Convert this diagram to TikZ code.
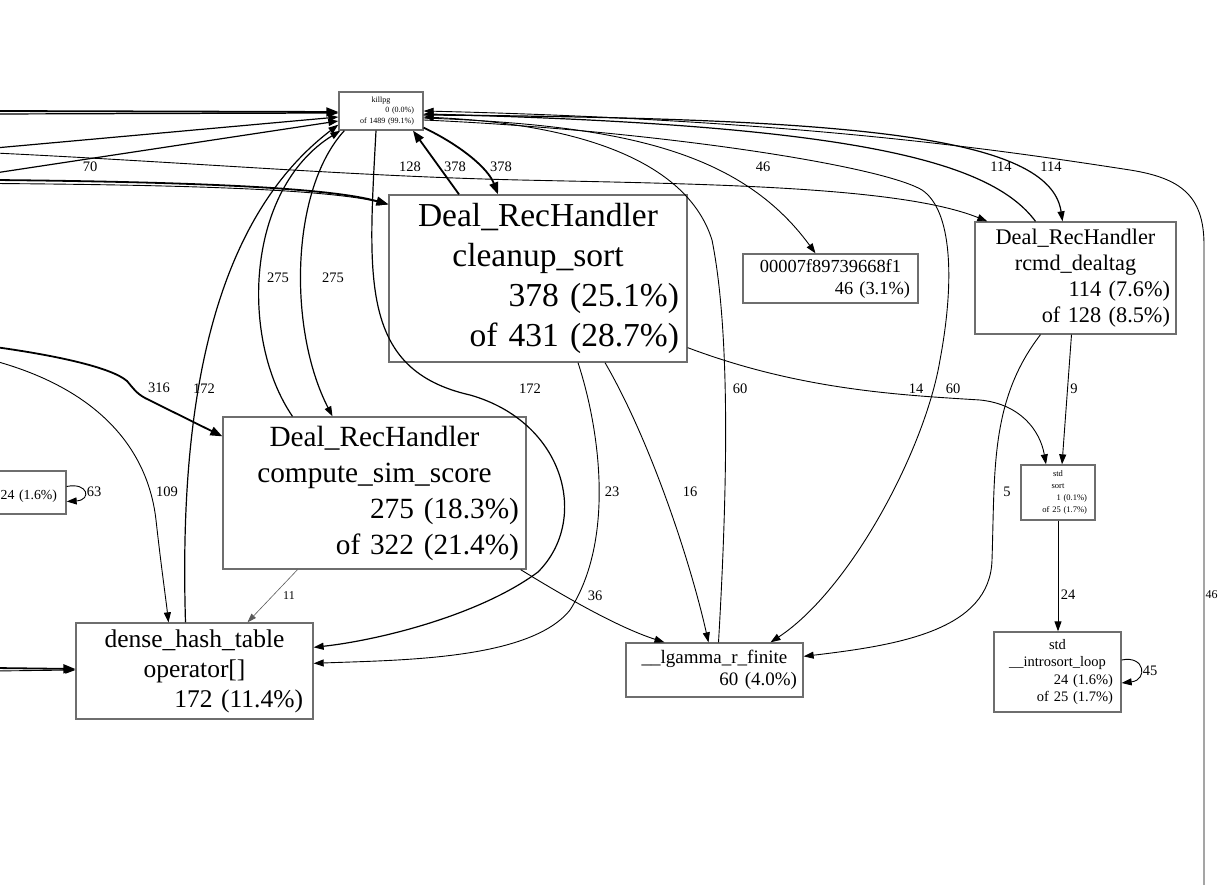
\documentclass[tikz,border=0pt]{standalone}
\usepackage{fontspec}
\setmainfont{Liberation Serif}
\usetikzlibrary{arrows.meta}
\newcommand{\ctrline}[1]{\makebox[\hsize][c]{#1}}
\newcommand{\fsz}[2]{\fontsize{#1}{#2}\selectfont}
\begin{document}
\begin{tikzpicture}[x=1pt,y=-1pt,
  fbox/.style={draw={rgb,255:red,110;green,110;blue,110}, line width=1.3pt, inner sep=0pt, align=right, execute at begin node={\parindent=0pt}},
  e/.style={draw=black, line width=0.9pt, -{Triangle[length=10pt,width=7pt]}},
  em/.style={e, line width=1.2pt},
  eth/.style={e, line width=1.8pt, -{Triangle[length=12pt,width=9pt]}},
  ethin/.style={draw={rgb,255:red,90;green,90;blue,90}, line width=0.6pt, -{Triangle[length=9pt,width=6pt]}},
  lbl/.style={font=\fsz{14.5}{16}, inner sep=0pt},
]
\useasboundingbox (0,0) rectangle (1218,885);

% nodes
\node[fbox, minimum width=84pt, minimum height=38pt, text width=66pt, font=\fsz{8}{10.5}] (killpg) at (381,111) {\ctrline{killpg}\\0 (0.0\%)\\of 1489 (99.1\%)};
\node[fbox, minimum width=298pt, minimum height=167pt, text width=282pt, font=\fsz{33.5}{40}] (cleanup) at (538,278.5) {\ctrline{Deal\_RecHandler}\\\ctrline{cleanup\_sort}\\378 (25.1\%)\\of 431 (28.7\%)};
\node[fbox, minimum width=175pt, minimum height=49pt, text width=159pt, font=\fsz{18.4}{22}] (hexaddr) at (830.5,278.5) {\ctrline{00007f89739668f1}\\46 (3.1\%)};
\node[fbox, minimum width=201pt, minimum height=112pt, text width=189pt, font=\fsz{22.3}{26}] (dealtag) at (1075.5,278) {\ctrline{Deal\_RecHandler}\\\ctrline{rcmd\_dealtag}\\114 (7.6\%)\\of 128 (8.5\%)};
\node[fbox, minimum width=303pt, minimum height=152pt, text width=289pt, font=\fsz{29.3}{36}] (simscore) at (374.5,493) {\ctrline{Deal\_RecHandler}\\\ctrline{compute\_sim\_score}\\275 (18.3\%)\\of 322 (21.4\%)};
\node[fbox, minimum width=126pt, minimum height=43pt, text width=108pt, font=\fsz{13.8}{17}] (leftnode) at (3,492.5) {\mbox{}\\24 (1.6\%)};
\node[fbox, minimum width=74pt, minimum height=55pt, text width=58pt, font=\fsz{8.5}{12}] (stdsort) at (1058,492.5) {\ctrline{std}\\\ctrline{sort}\\1 (0.1\%)\\of 25 (1.7\%)};
\node[fbox, minimum width=237pt, minimum height=96pt, text width=217pt, font=\fsz{25.5}{30}] (dense) at (194.5,671) {\ctrline{dense\_hash\_table}\\\ctrline{operator[]}\\172 (11.4\%)};
\node[fbox, minimum width=177pt, minimum height=54pt, text width=165pt, font=\fsz{19}{22}] (lgamma) at (714.5,670) {\ctrline{\_\_lgamma\_r\_finite}\\60 (4.0\%)};
\node[fbox, minimum width=127pt, minimum height=80pt, text width=111pt, font=\fsz{14.5}{17.5}] (introsort) at (1057.5,672) {\ctrline{std}\\\ctrline{\_\_introsort\_loop}\\24 (1.6\%)\\of 25 (1.7\%)};

% off-canvas ends
\coordinate (inA) at (-5,111);
\coordinate (inA2) at (-5,114);
\coordinate (inB) at (-5,148);
\coordinate (inC) at (-5,173);
\coordinate (inD) at (-5,153);
\coordinate (inE) at (-5,180);
\coordinate (inE2) at (-5,183.5);
\coordinate (inF) at (-5,347);
\coordinate (inG) at (-5,361);
\coordinate (inH) at (-5,668);
\coordinate (inH2) at (-5,671);
\coordinate (outR) at (1204,895);

% edges into killpg from the left
\draw[eth] (inA) -- ([yshift=-1pt]killpg.west);
\draw[em] (inA2) -- ([yshift=-2pt]killpg.west);
\draw[em] (inB) -- ([yshift=-6pt]killpg.west);
\draw[em] (inC) -- ([yshift=-10pt]killpg.west);
\draw[e] (inD) .. controls (200,163) and (350,176) .. (520,180) .. controls (700,184) and (900,186) .. ([xshift=13pt]dealtag.north west);
\draw[eth] (inE) .. controls (200,182) and (330,188) .. ([yshift=-10pt]cleanup.north west);
\draw[e] (inE2) .. controls (200,185) and (330,190) .. ([yshift=-10pt]cleanup.north west);
\draw[eth] (inF) .. controls (60,356) and (112,368) .. (127,381) .. controls (133,388) and (136,393) .. (145,398) -- ([yshift=-20pt]simscore.north west);
\draw[e] (inG) .. controls (100,390) and (148,450) .. (156,520) .. controls (161,565) and (166,600) .. ([xshift=-26pt]dense.north);
\draw[eth] (inH) -- ([yshift=2pt]dense.west);
\draw[e] (inH2) -- ([yshift=1pt]dense.west);
\draw[e] ([yshift=6pt]leftnode.east) .. controls (88,482) and (92,500) .. ([yshift=-9pt]leftnode.east);

% around killpg bottom
\draw[em] ([xshift=-9pt]dense.north) .. controls (180,440) and (200,230) .. ([yshift=6pt]killpg.south west);
\draw[em] ([xshift=-82pt]simscore.north) .. controls (240,340) and (245,190) .. ([xshift=2pt]killpg.south west);
\draw[em] ([xshift=6pt]killpg.south west) .. controls (290,190) and (288,330) .. ([xshift=-42pt]simscore.north);
\draw[em] ([xshift=-5pt]killpg.south) .. controls (368,280) and (360,370) .. (470,395) .. controls (565,422) and (590,520) .. (538,572) .. controls (480,615) and (380,640) .. ([yshift=-25pt]dense.north east);
\draw[eth] ([xshift=-79pt]cleanup.north) -- ([xshift=32pt]killpg.south);
\draw[eth] ([yshift=3pt]killpg.south east) .. controls (460,145) and (488,168) .. ([xshift=-40pt]cleanup.north);

% from cleanup
\draw[e] ([xshift=40pt]cleanup.south) .. controls (600,430) and (615,540) .. (570,610) .. controls (530,660) and (400,660) .. ([yshift=-41pt]dense.north east);
\draw[e] ([xshift=67pt]cleanup.south) .. controls (650,440) and (690,560) .. ([xshift=-6pt]lgamma.north);
\draw[e] ([yshift=15pt]cleanup.south east) .. controls (800,390) and (900,395) .. (980,400) .. controls (1020,404) and (1040,430) .. ([xshift=-12pt]stdsort.north);

% killpg right side
\draw[e] ([xshift=4pt]lgamma.north) .. controls (728,480) and (730,330) .. (712,240) .. controls (690,170) and (600,125) .. ([yshift=-6pt]killpg.east);
\draw[e] ([yshift=-9pt]killpg.east) .. controls (650,130) and (880,165) .. (922,190) .. controls (952,210) and (955,280) .. (940,360) .. controls (925,450) and (850,590) .. ([xshift=56pt]lgamma.north);
\draw[e] ([yshift=-7pt]killpg.east) .. controls (620,125) and (740,150) .. ([xshift=-15pt]hexaddr.north);
\draw[em] ([xshift=-40pt]dealtag.north) .. controls (990,160) and (850,125) .. ([yshift=-3pt]killpg.east);
\draw[em] ([yshift=-4pt]killpg.east) .. controls (850,118) and (1050,135) .. ([xshift=-13pt]dealtag.north);
\draw[e] (outR) -- (1204,245) .. controls (1204,195) and (1180,178) .. (1130,170) .. controls (1000,150) and (800,120) .. (killpg.east);

% lower edges
\draw[e] ([xshift=-6pt]simscore.south east) .. controls (570,600) and (620,628) .. ([xshift=-50pt]lgamma.north);
\draw[ethin] ([xshift=-77pt]simscore.south) -- ([xshift=53pt]dense.north);
\draw[e] ([xshift=-4pt]dealtag.south) -- ([xshift=4pt]stdsort.north);
\draw[e] ([xshift=-35pt]dealtag.south) .. controls (990,400) and (995,470) .. (992,560) .. controls (990,630) and (900,645) .. ([yshift=-14pt]lgamma.north east);
\draw[e] (stdsort.south) -- (stdsort.south |- introsort.north);
\draw[e] ([yshift=12pt]introsort.east) .. controls (1145,655) and (1148,680) .. ([yshift=-11pt]introsort.east);

% edge labels
\node[lbl] (l70) at (90,167) {70};
\node[lbl] (l128) at (410,167) {128};
\node[lbl] (l378a) at (455,167) {378};
\node[lbl] (l378b) at (501,167) {378};
\node[lbl] (l46a) at (763,167) {46};
\node[lbl] (l114a) at (1001,167) {114};
\node[lbl] (l114b) at (1051,167) {114};
\node[lbl] (l275a) at (278,278) {275};
\node[lbl] (l275b) at (333,278) {275};
\node[lbl] (l316) at (159,388) {316};
\node[lbl] (l172a) at (204,389) {172};
\node[lbl] (l172b) at (530,389) {172};
\node[lbl] (l60a) at (740,389) {60};
\node[lbl] (l14) at (916,389) {14};
\node[lbl] (l60b) at (953,389) {60};
\node[lbl] (l9) at (1074,389) {9};
\node[lbl] (l109) at (167,492) {109};
\node[lbl] (l63) at (94,492) {63};
\node[lbl] (l23) at (612,492) {23};
\node[lbl] (l16) at (690,492) {16};
\node[lbl] (l5) at (1007,492) {5};
\node[lbl, font=\fsz{12}{13}] (l11) at (289,596) {11};
\node[lbl] (l36) at (595,596) {36};
\node[lbl] (l24) at (1068,595) {24};
\node[lbl] (l45) at (1150,671) {45};
\node[lbl, font=\fsz{12}{13}] (l46b) at (1211.5,595) {46};
\end{tikzpicture}
\end{document}
